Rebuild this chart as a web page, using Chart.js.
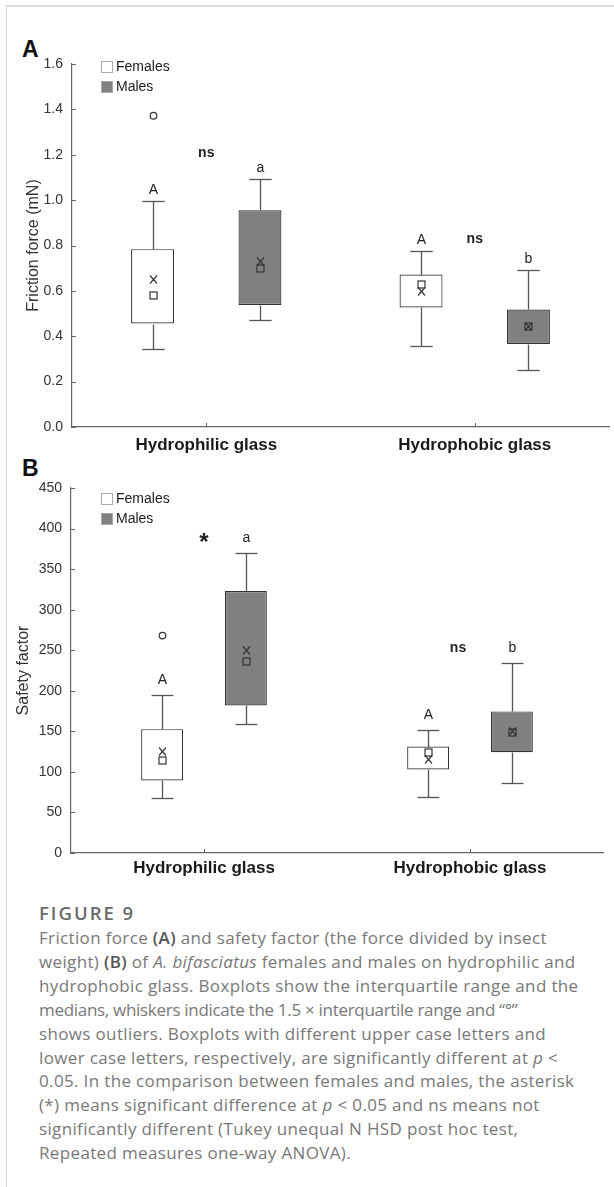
<!DOCTYPE html>
<html>
<head>
<meta charset="utf-8">
<script src="https://cdn.jsdelivr.net/npm/chart.js@4.4.1/dist/chart.umd.min.js"></script>
<style>
  html, body { margin: 0; padding: 0; background: #fff; }
  body { width: 614px; height: 1187px; position: relative; overflow: hidden; }
  .frame { position: absolute; left: 6px; top: 5px; right: 0; bottom: 0;
           border-left: 1px solid #d4d4d4; border-top: 2px solid #dcdcdc; }
  .panel-letter { position: absolute; left: 22px; font: bold 23px 'Liberation Sans', Arial, sans-serif;
                  line-height: 23px; color: #111; }
  canvas { position: absolute; left: 0; }
  #chartA { top: 40px; }
  #chartB { top: 470px; }
  .fig-title { position: absolute; left: 39px; top: 901px; font: 600 18.5px 'Open Sans', sans-serif;
               letter-spacing: 2px; line-height: 24px; color: #6a6a6a; }
  .caption { position: absolute; left: 39px; top: 926px; font: 400 17px 'Open Sans', sans-serif;
             letter-spacing: 0.35px; line-height: 23.9px; color: #787878; white-space: nowrap; }
  .caption b { color: #555; font-weight: 600; }
</style>
</head>
<body>
<div class="frame"></div>
<div class="panel-letter" style="top:38px">A</div>
<div class="panel-letter" style="top:457px">B</div>
<canvas id="chartA" width="614" height="420"></canvas>
<canvas id="chartB" width="614" height="420"></canvas>
<div class="fig-title">FIGURE 9</div>
<div class="caption">
Friction force <b>(A)</b> and safety factor (the force divided by insect<br>
weight) <b>(B)</b> of <i>A. bifasciatus</i> females and males on hydrophilic and<br>
hydrophobic glass. Boxplots show the interquartile range and the<br>
<span style="letter-spacing:-0.3px">medians, whiskers indicate the 1.5 × interquartile range and “°”</span><br>
shows outliers. Boxplots with different upper case letters and<br>
lower case letters, respectively, are significantly different at <i>p</i> &lt;<br>
0.05. In the comparison between females and males, the asterisk<br>
(*) means significant difference at <i>p</i> &lt; 0.05 and ns means not<br>
significantly different (Tukey unequal N HSD post hoc test,<br>
Repeated measures one-way ANOVA).
</div>
<script>
// categories and series
const groups = ["Hydrophilic glass", "Hydrophobic glass"];
const seriesNames = ["Females", "Males"];

// Panel A: friction force (mN), one value per group
const fricFemaleMin = [0.345, 0.356];
const fricFemaleQ1 = [0.456, 0.527];
const fricFemaleMedian = [0.584, 0.632];
const fricFemaleMean = [0.651, 0.600];
const fricFemaleQ3 = [0.784, 0.672];
const fricFemaleMax = [0.995, 0.776];
const fricFemaleOut = [[1.372], []];

const fricMaleMin = [0.470, 0.253];
const fricMaleQ1 = [0.538, 0.366];
const fricMaleMedian = [0.700, 0.444];
const fricMaleMean = [0.732, 0.446];
const fricMaleQ3 = [0.955, 0.518];
const fricMaleMax = [1.091, 0.691];
const fricMaleOut = [[], []];

const fricFemaleLetters = ["A", "A"];
const fricMaleLetters = ["a", "b"];
const fricSigText = ["ns", "ns"];
const fricSigValue = [1.206, 0.83];
const fricTicks = [0, 0.2, 0.4, 0.6, 0.8, 1.0, 1.2, 1.4, 1.6];

// Panel B: safety factor
const safeFemaleMin = [67.5, 69];
const safeFemaleQ1 = [89.4, 103];
const safeFemaleMedian = [114.5, 124];
const safeFemaleMean = [126, 115.3];
const safeFemaleQ3 = [152.7, 131.3];
const safeFemaleMax = [194.7, 151.5];
const safeFemaleOut = [[268], []];

const safeMaleMin = [159, 86];
const safeMaleQ1 = [182, 124.3];
const safeMaleMedian = [236.7, 149.4];
const safeMaleMean = [250, 150];
const safeMaleQ3 = [323, 174.6];
const safeMaleMax = [369.6, 234.6];
const safeMaleOut = [[], []];

const safeFemaleLetters = ["A", "A"];
const safeMaleLetters = ["a", "b"];
const safeSigText = ["*", "ns"];
const safeSigValue = [388, 252];
const safeTicks = [0, 50, 100, 150, 200, 250, 300, 350, 400, 450];

const FONT = "'Liberation Sans', Arial, sans-serif";
Chart.defaults.font.family = FONT;
Chart.defaults.color = "#333";

const fillColors = ["#ffffff", "#808080"];

function pack(min, q1, med, mean, q3, max, out) {
  return { min, q1, med, mean, q3, max, out };
}

// whiskers, medians, means, outliers, letters, legend, inward ticks
const boxExtras = {
  id: "boxExtras",
  afterDatasetsDraw(chart, args, opts) {
    const ctx = chart.ctx;
    const ys = chart.scales.y;
    const xs = chart.scales.x;
    const area = chart.chartArea;
    const line = (x1, y1, x2, y2) => { ctx.beginPath(); ctx.moveTo(x1, y1); ctx.lineTo(x2, y2); ctx.stroke(); };
    ctx.save();

    // inward tick marks
    ctx.strokeStyle = "#666";
    ctx.lineWidth = 1;
    ys.ticks.forEach((t, i) => {
      const py = Math.round(ys.getPixelForTick(i)) + 0.5;
      line(area.left, py, area.left + 4, py);
    });
    xs.ticks.forEach((t, i) => {
      const px = Math.round(xs.getPixelForTick(i)) + 0.5;
      line(px, area.bottom, px, area.bottom - 4);
    });

    opts.stats.forEach((s, d) => {
      const meta = chart.getDatasetMeta(d);
      meta.data.forEach((bar, i) => {
        const cx = Math.round(bar.x) + 0.5;
        const half = bar.width * 0.26;
        const py = (v) => Math.round(ys.getPixelForValue(v)) + 0.5;

        // whiskers
        ctx.strokeStyle = "#555";
        ctx.lineWidth = 1.3;
        line(cx, py(s.q3[i]), cx, py(s.max[i]));
        line(cx, py(s.q1[i]), cx, py(s.min[i]));
        line(cx - half, py(s.max[i]), cx + half, py(s.max[i]));
        line(cx - half, py(s.min[i]), cx + half, py(s.min[i]));

        // median square
        ctx.strokeStyle = "#333";
        ctx.lineWidth = 1.2;
        const m = py(s.med[i]);
        if (d === 0) { ctx.fillStyle = "#fff"; ctx.fillRect(cx - 3.5, m - 3.5, 7, 7); }
        ctx.strokeRect(cx - 3.5, m - 3.5, 7, 7);

        // mean cross
        const mu = py(s.mean[i]);
        line(cx - 3.5, mu - 4, cx + 3.5, mu + 4);
        line(cx + 3.5, mu - 4, cx - 3.5, mu + 4);

        // outliers
        s.out[i].forEach((v) => {
          ctx.beginPath();
          ctx.arc(cx, ys.getPixelForValue(v), 3.3, 0, Math.PI * 2);
          ctx.stroke();
        });

        // letter above upper whisker
        ctx.fillStyle = "#222";
        ctx.font = "14px " + FONT;
        ctx.textAlign = "center";
        ctx.textBaseline = "middle";
        ctx.fillText(opts.letters[d][i], cx, ys.getPixelForValue(s.max[i]) - opts.letterGap);
      });
    });

    // significance between sexes
    opts.sigText.forEach((txt, i) => {
      const px = xs.getPixelForValue(i) + (opts.sigShift[i] || 0);
      const pyv = ys.getPixelForValue(opts.sigValue[i]);
      ctx.fillStyle = "#222";
      ctx.font = (txt === "*" ? "bold 24px " : "bold 14px ") + FONT;
      ctx.textAlign = "center";
      ctx.textBaseline = "middle";
      ctx.fillText(txt, px, txt === "*" ? pyv + 5 : pyv);
    });

    // legend inside the plot
    chart.data.datasets.forEach((ds, d) => {
      const ly = area.top + opts.legendTop + d * 20;
      ctx.fillStyle = ds.backgroundColor;
      ctx.fillRect(101, ly - 6, 12, 12);
      ctx.strokeStyle = "#aaa";
      ctx.lineWidth = 1;
      ctx.strokeRect(101.5, ly - 5.5, 11, 11);
      ctx.fillStyle = "#222";
      ctx.font = "14px " + FONT;
      ctx.textAlign = "left";
      ctx.textBaseline = "middle";
      ctx.fillText(ds.label, 116, ly);
    });
    ctx.restore();
  }
};

function makeChart(id, cfg) {
  const datasets = cfg.stats.map((s, d) => ({
    label: seriesNames[d],
    data: s.q1.map((q, i) => [q, s.q3[i]]),
    backgroundColor: fillColors[d],
    borderColor: "#333",
    borderWidth: 1.2,
    borderSkipped: false,
    categoryPercentage: cfg.catPct,
    barPercentage: cfg.barPct
  }));
  return new Chart(document.getElementById(id), {
    type: "bar",
    data: { labels: groups, datasets },
    options: {
      responsive: false,
      animation: false,
      events: [],
      layout: { padding: { top: cfg.padTop, right: cfg.padRight, left: 0, bottom: 0 } },
      plugins: {
        legend: { display: false },
        tooltip: { enabled: false },
        boxExtras: {
          stats: cfg.stats,
          letters: cfg.letters,
          letterGap: cfg.letterGap,
          sigText: cfg.sigText,
          sigValue: cfg.sigValue,
          sigShift: cfg.sigShift,
          legendTop: cfg.legendTop
        }
      },
      scales: {
        x: {
          offset: true,
          grid: { display: false, drawTicks: false },
          border: { color: "#666", width: 1.2 },
          ticks: { color: "#1a1a1a", font: { size: 17, weight: "bold" }, padding: cfg.xPad, maxRotation: 0 },
          afterFit: (s) => { s.height = cfg.xHeight; }
        },
        y: {
          min: cfg.ticks[0],
          max: cfg.ticks[cfg.ticks.length - 1],
          afterBuildTicks: (s) => { s.ticks = cfg.ticks.map((v) => ({ value: v })); },
          grid: { display: false, drawTicks: false },
          border: { color: "#666", width: 1.2 },
          ticks: { color: "#333", font: { size: 14 }, padding: 9, callback: cfg.fmt },
          title: { display: true, text: cfg.title, color: "#333", font: { size: 16 }, padding: { top: cfg.titlePad, bottom: 0 } },
          afterFit: (s) => { s.width = cfg.yWidth; }
        }
      }
    },
    plugins: [boxExtras]
  });
}

makeChart("chartA", {
  stats: [
    pack(fricFemaleMin, fricFemaleQ1, fricFemaleMedian, fricFemaleMean, fricFemaleQ3, fricFemaleMax, fricFemaleOut),
    pack(fricMaleMin, fricMaleQ1, fricMaleMedian, fricMaleMean, fricMaleQ3, fricMaleMax, fricMaleOut)
  ],
  letters: [fricFemaleLetters, fricMaleLetters],
  letterGap: 11,
  sigText: fricSigText,
  sigValue: fricSigValue,
  sigShift: [0, 0],
  ticks: fricTicks,
  fmt: (v) => Number(v).toFixed(1),
  title: "Friction force (mN)",
  titlePad: 24,
  catPct: 0.8,
  barPct: 0.4,
  padTop: 24,
  padRight: 5,
  xHeight: 33,
  xPad: 8,
  yWidth: 72,
  legendTop: 3
});

makeChart("chartB", {
  stats: [
    pack(safeFemaleMin, safeFemaleQ1, safeFemaleMedian, safeFemaleMean, safeFemaleQ3, safeFemaleMax, safeFemaleOut),
    pack(safeMaleMin, safeMaleQ1, safeMaleMedian, safeMaleMean, safeMaleQ3, safeMaleMax, safeMaleOut)
  ],
  letters: [safeFemaleLetters, safeMaleLetters],
  letterGap: 15,
  sigText: safeSigText,
  sigValue: safeSigValue,
  sigShift: [0, -12],
  ticks: safeTicks,
  fmt: (v) => String(v),
  title: "Safety factor",
  titlePad: 14,
  catPct: 0.63,
  barPct: 0.5,
  padTop: 18,
  padRight: 11,
  xHeight: 37,
  xPad: 5,
  yWidth: 71,
  legendTop: 11
});
</script>
</body>
</html>
